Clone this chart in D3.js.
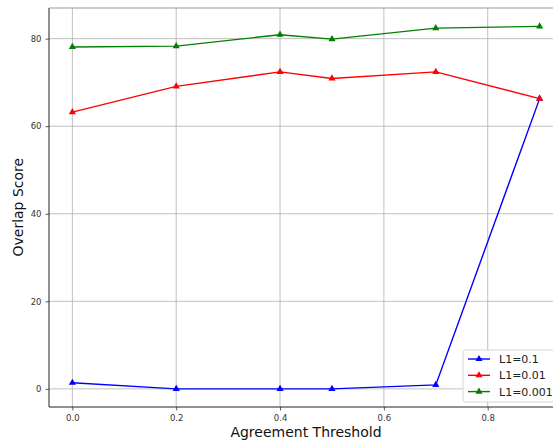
<!DOCTYPE html>
<html>
<head>
<meta charset="utf-8">
<script src="https://cdn.jsdelivr.net/npm/d3@7"></script>
<style>
  html, body { margin: 0; padding: 0; background: #fff; }
  svg { display: block; }
</style>
</head>
<body>
<div id="chart"></div>
<script>
const thresholds = [0.0, 0.2, 0.4, 0.5, 0.7, 0.9];
const l1_01 = [1.4, 0.0, 0.0, 0.0, 0.9, 66.3];
const l1_001 = [63.2, 69.1, 72.4, 70.9, 72.4, 66.3];
const l1_0001 = [78.1, 78.3, 80.9, 79.9, 82.4, 82.8];
const seriesNames = ["L1=0.1", "L1=0.01", "L1=0.001"];
const seriesColors = ["#0000ff", "#ff0000", "#008000"];
const xTicks = [0.0, 0.2, 0.4, 0.6, 0.8];
const yTicks = [0, 20, 40, 60, 80];

const W = 553, H = 443;
const margin = {top: 8, right: -10, bottom: 36, left: 49};
const width = W - margin.left - margin.right,
      height = H - margin.top - margin.bottom;

const svg = d3.select("#chart").append("svg")
    .attr("width", W).attr("height", H)
    .style("font-family", "DejaVu Sans");

const g = svg.append("g")
    .attr("transform", `translate(${margin.left},${margin.top})`);

const x = d3.scaleLinear().domain([-0.045, 0.945]).range([0, width]);
const y = d3.scaleLinear().domain([-4.14, 87.0]).range([height, 0]);

// grid
g.append("g").selectAll("line").data(xTicks).join("line")
    .attr("x1", d => x(d)).attr("x2", d => x(d))
    .attr("y1", 0).attr("y2", height)
    .attr("stroke", "#b0b0b0").attr("stroke-width", 0.8);
g.append("g").selectAll("line").data(yTicks).join("line")
    .attr("x1", 0).attr("x2", width)
    .attr("y1", d => y(d)).attr("y2", d => y(d))
    .attr("stroke", "#b0b0b0").attr("stroke-width", 0.8);

// axes
const xAxis = g.append("g")
    .attr("transform", `translate(0,${height})`)
    .call(d3.axisBottom(x).tickValues(xTicks).tickFormat(d3.format(".1f")).tickSize(3.5).tickPadding(4));
const yAxis = g.append("g")
    .call(d3.axisLeft(y).tickValues(yTicks).tickFormat(d3.format("d")).tickSize(3.5).tickPadding(4));
[xAxis, yAxis].forEach(a => {
  a.select(".domain").remove();
  a.selectAll(".tick line").attr("stroke", "#333").attr("stroke-width", 0.8);
  a.selectAll("text").attr("font-family", "DejaVu Sans").attr("font-size", "8.5px").attr("fill", "#333");
});

// spines
g.append("line").attr("x1", 0).attr("x2", 0).attr("y1", 0).attr("y2", height)
    .attr("stroke", "#222").attr("stroke-width", 1);
g.append("line").attr("x1", 0).attr("x2", width).attr("y1", height).attr("y2", height)
    .attr("stroke", "#222").attr("stroke-width", 1);
g.append("line").attr("x1", 0).attr("x2", width).attr("y1", 0).attr("y2", 0)
    .attr("stroke", "#999").attr("stroke-width", 1.2);

// series
const allSeries = [l1_01, l1_001, l1_0001];
const line = d3.line().x((d, i) => x(thresholds[i])).y(d => y(d));
const tri = d3.symbol().type(d3.symbolTriangle).size(22);

allSeries.forEach((vals, k) => {
  const sg = g.append("g");
  sg.append("path").datum(vals)
    .attr("d", line)
    .attr("fill", "none")
    .attr("stroke", seriesColors[k])
    .attr("stroke-width", 1.4);
  sg.selectAll("path.m").data(vals).join("path")
    .attr("class", "m")
    .attr("d", tri)
    .attr("transform", (d, i) => `translate(${x(thresholds[i])},${y(d)})`)
    .attr("fill", seriesColors[k]);
});

// labels
svg.append("text")
    .attr("x", 306).attr("y", 437)
    .attr("text-anchor", "middle")
    .attr("font-size", "14px").attr("fill", "#111")
    .text("Agreement Threshold");
svg.append("text")
    .attr("transform", `translate(23,${margin.top + y(41.5)}) rotate(-90)`)
    .attr("text-anchor", "middle")
    .attr("font-size", "14px").attr("fill", "#111")
    .text("Overlap Score");

// legend
const lg = svg.append("g").attr("transform", "translate(463,350)");
lg.append("rect")
    .attr("width", 100).attr("height", 52).attr("rx", 3)
    .attr("fill", "#fff").attr("fill-opacity", 0.85)
    .attr("stroke", "#d6d6d6").attr("stroke-width", 1);
seriesNames.forEach((name, k) => {
  const row = lg.append("g").attr("transform", `translate(0,${9 + k * 16.3})`);
  row.append("line").attr("x1", 5).attr("x2", 27).attr("y1", 0).attr("y2", 0)
    .attr("stroke", seriesColors[k]).attr("stroke-width", 1.4);
  row.append("path").attr("d", tri).attr("transform", "translate(16,0)")
    .attr("fill", seriesColors[k]);
  row.append("text").attr("x", 36).attr("y", 4)
    .attr("font-size", "11px").attr("fill", "#222")
    .text(name);
});
</script>
</body>
</html>
